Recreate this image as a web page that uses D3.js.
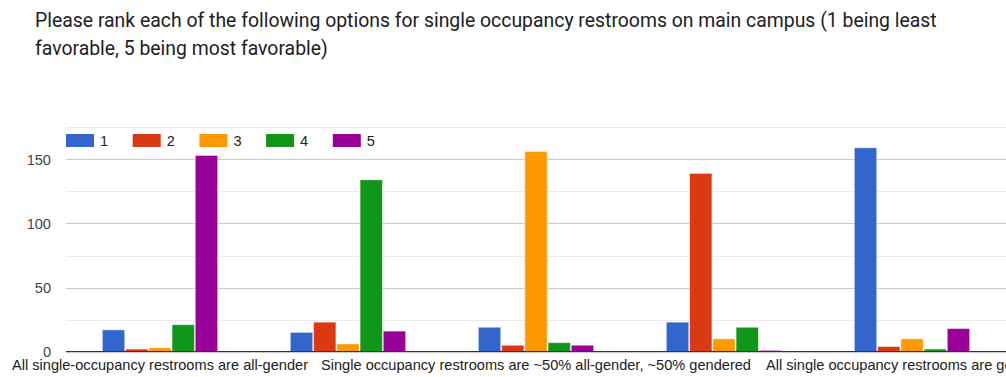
<!DOCTYPE html>
<html>
<head>
<meta charset="utf-8">
<script src="https://cdn.jsdelivr.net/npm/d3@7"></script>
<style>
  html, body { margin: 0; padding: 0; background: #fff; overflow: hidden; }
  svg { display: block; }
</style>
</head>
<body>
<svg id="chart" width="1006" height="377"></svg>
<script>
const titleLines = [
  "Please rank each of the following options for single occupancy restrooms on main campus (1 being least",
  "favorable, 5 being most favorable)"
];
const categories = [
  "All single-occupancy restrooms are all-gender",
  "Single occupancy restrooms are ~75% all-gender, ~25% gendered",
  "Single occupancy restrooms are ~50% all-gender, ~50% gendered",
  "Single occupancy restrooms are ~25% all-gender, ~75% gendered",
  "All single occupancy restrooms are gendered"
];
const seriesNames = ["1", "2", "3", "4", "5"];
const seriesColors = ["#3366cc", "#dc3912", "#ff9900", "#109618", "#990099"];
const rank1 = [17, 15, 19, 23, 159];
const rank2 = [2, 23, 5, 139, 4];
const rank3 = [3, 6, 156, 10, 10];
const rank4 = [21, 134, 7, 19, 2];
const rank5 = [153, 16, 5, 1, 18];
const yTicks = [0, 50, 100, 150];
const yMinorTicks = [25, 75, 125, 175];
const shownLabelIdx = [0, 2, 4];

(function () {
const series = [rank1, rank2, rank3, rank4, rank5];
const svg = d3.select("#chart");
const W = 1006;
const pLeft = 66, pRight = 1006, pTop = 127.3, pBottom = 351.7;
const axisFont = "Arial, 'Liberation Sans', sans-serif";
const axisSize = 14.6;

// title
svg.append("g").selectAll("text").data(titleLines).join("text")
  .attr("x", 35).attr("y", (d, i) => 27 + i * 28)
  .attr("font-family", "Roboto, 'Open Sans', sans-serif")
  .attr("font-size", 19.4).attr("fill", "#202124")
  .text(d => d);

const x0 = d3.scaleBand().domain(d3.range(categories.length)).range([pLeft, pRight]).paddingInner(0.382).paddingOuter(0.191);
const x1 = d3.scaleBand().domain(d3.range(seriesNames.length)).range([0, x0.bandwidth()]);
const y = d3.scaleLinear().domain([0, 175]).range([pBottom, pTop]);

// grid
svg.append("g").selectAll("line").data(yMinorTicks).join("line")
  .attr("x1", pLeft).attr("x2", W).attr("y1", d => Math.round(y(d)) + 0.5).attr("y2", d => Math.round(y(d)) + 0.5)
  .attr("stroke", "#ebebeb").attr("stroke-width", 1);
svg.append("g").selectAll("line").data(yTicks.filter(d => d > 0)).join("line")
  .attr("x1", pLeft).attr("x2", W).attr("y1", d => Math.round(y(d)) + 0.5).attr("y2", d => Math.round(y(d)) + 0.5)
  .attr("stroke", "#cccccc").attr("stroke-width", 1);

// y axis labels
const yAxis = d3.axisLeft(y).tickValues(yTicks).tickSize(0).tickPadding(15);
const ya = svg.append("g").attr("transform", `translate(${pLeft},0)`).call(yAxis);
ya.select(".domain").remove();
ya.selectAll("text").attr("font-family", axisFont).attr("font-size", axisSize).attr("fill", "#444");

// bars
const groups = svg.append("g").selectAll("g").data(categories).join("g")
  .attr("transform", (d, i) => `translate(${x0(i)},0)`);
groups.selectAll("rect").data((d, i) => series.map((s, j) => ({ j, v: s[i] }))).join("rect")
  .attr("x", d => x1(d.j) + 0.5)
  .attr("width", x1.bandwidth() - 1)
  .attr("y", d => y(d.v))
  .attr("height", d => y(0) - y(d.v))
  .attr("fill", d => seriesColors[d.j])
  .attr("stroke", "#ffffff").attr("stroke-opacity", 0.35).attr("stroke-width", 1);

// baseline
svg.append("line").attr("x1", pLeft).attr("x2", W).attr("y1", y(0)).attr("y2", y(0))
  .attr("stroke", "#333").attr("stroke-width", 1.2);

// x axis labels
const xAxis = d3.axisBottom(x0).tickSize(0).tickPadding(8)
  .tickFormat(i => shownLabelIdx.includes(i) ? categories[i] : "");
const xa = svg.append("g").attr("transform", `translate(0,${pBottom})`).call(xAxis);
xa.select(".domain").remove();
xa.selectAll("text").attr("font-family", axisFont).attr("font-size", axisSize).attr("fill", "#222");

// legend
const leg = svg.append("g").selectAll("g").data(seriesNames).join("g")
  .attr("transform", (d, i) => `translate(${66 + i * 66.7},134)`);
leg.append("rect").attr("width", 28).attr("height", 13).attr("fill", (d, i) => seriesColors[i]);
leg.append("text").attr("x", 34).attr("y", 12)
  .attr("font-family", axisFont).attr("font-size", axisSize).attr("fill", "#222")
  .text(d => d);
})();
</script>
</body>
</html>
